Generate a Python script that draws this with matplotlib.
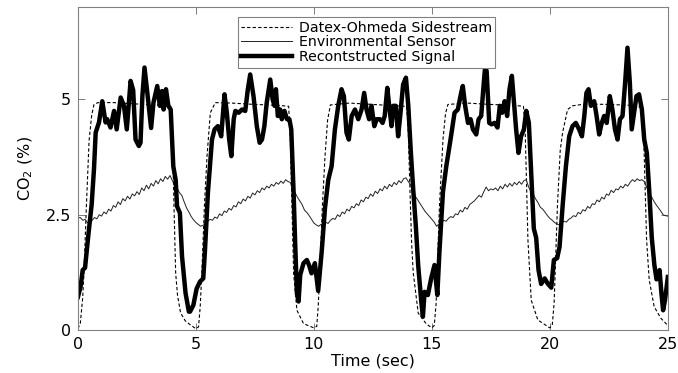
import numpy as np
import matplotlib
matplotlib.use("Agg")
import matplotlib.pyplot as plt

plt.rcParams["font.family"] = ["DejaVu Sans"]

# Datex-Ohmeda sidestream reference (time in s, CO2 in %)
ref_time = [0.00, 0.10, 0.20, 0.25, 0.35, 0.47, 0.58, 0.68, 0.85, 1.50, 2.50, 3.50,
            3.93, 4.00, 4.07, 4.14, 4.22, 4.35, 4.55, 4.77, 5.00, 5.11, 5.18, 5.25,
            5.36, 5.47, 5.61, 5.82, 6.50, 7.50, 8.50, 8.93, 9.00, 9.07, 9.14, 9.28,
            9.56, 9.99, 10.12, 10.18, 10.25, 10.36, 10.47, 10.58, 10.70, 11.50, 12.50,
            13.50, 13.93, 14.00, 14.07, 14.14, 14.21, 14.42, 14.77, 15.00, 15.10,
            15.18, 15.32, 15.47, 15.58, 15.68, 16.50, 17.50, 18.50, 18.88, 18.95,
            19.00, 19.07, 19.21, 19.49, 19.99, 20.10, 20.18, 20.32, 20.44, 20.54,
            20.75, 20.96, 21.50, 22.50, 23.50, 23.93, 24.00, 24.10, 24.21, 24.42,
            24.70, 25.00]
ref_co2 = [0.03, 0.15, 0.70, 1.20, 2.60, 4.10, 4.65, 4.89, 4.93, 4.93, 4.90, 4.87,
           4.85, 4.30, 2.68, 1.24, 0.75, 0.37, 0.20, 0.11, 0.03, 0.07, 0.50, 1.24,
           2.70, 3.77, 4.71, 4.93, 4.92, 4.89, 4.87, 4.85, 4.13, 2.68, 1.23, 0.43,
           0.14, 0.05, 0.08, 0.50, 1.24, 2.70, 3.77, 4.55, 4.88, 4.92, 4.89,
           4.86, 4.85, 4.30, 3.04, 1.90, 1.24, 0.37, 0.13, 0.05, 0.10,
           0.58, 2.68, 4.13, 4.70, 4.89, 4.92, 4.89, 4.87, 4.85, 4.40,
           3.41, 1.96, 0.65, 0.22, 0.05, 0.10, 0.58, 2.68, 3.90, 4.28,
           4.78, 4.86, 4.90, 4.89, 4.87, 4.82, 3.77, 1.96, 1.09, 0.51,
           0.26, 0.10]

# environmental sensor, sampled every 0.1 s from 0 to 25 s
env_co2 = [
    2.43, 2.44, 2.38, 2.40, 2.33, 2.30, 2.38, 2.44, 2.41, 2.50,
    2.47, 2.56, 2.52, 2.62, 2.58, 2.70, 2.66, 2.78, 2.72, 2.85,
    2.80, 2.90, 2.84, 2.95, 2.91, 3.00, 2.94, 3.08, 3.02, 3.14,
    3.06, 3.18, 3.12, 3.24, 3.17, 3.28, 3.22, 3.33, 3.27, 3.35,
    3.24, 3.14, 3.08, 2.98, 2.92, 2.78, 2.65, 2.56, 2.46, 2.39,
    2.33, 2.29, 2.25, 2.27, 2.31, 2.36, 2.40, 2.38, 2.45, 2.42,
    2.52, 2.48, 2.58, 2.55, 2.64, 2.60, 2.70, 2.67, 2.78, 2.74,
    2.84, 2.80, 2.90, 2.86, 2.97, 2.93, 3.02, 2.98, 3.08, 3.04,
    3.12, 3.08, 3.16, 3.12, 3.20, 3.16, 3.23, 3.18, 3.26, 3.22,
    3.20, 3.05, 2.98, 2.88, 2.80, 2.72, 2.60, 2.55, 2.48, 2.40,
    2.32, 2.28, 2.25, 2.29, 2.27, 2.34, 2.31, 2.38, 2.42, 2.40,
    2.50, 2.46, 2.56, 2.52, 2.62, 2.58, 2.68, 2.65, 2.74, 2.70,
    2.82, 2.78, 2.88, 2.85, 2.95, 2.90, 3.01, 2.96, 3.06, 3.02,
    3.12, 3.06, 3.16, 3.11, 3.20, 3.15, 3.24, 3.19, 3.28, 3.30,
    3.22, 3.14, 3.02, 2.90, 2.82, 2.74, 2.66, 2.58, 2.52, 2.46,
    2.40, 2.34, 2.25, 2.30, 2.33, 2.38, 2.36, 2.42, 2.46, 2.44,
    2.52, 2.50, 2.60, 2.56, 2.66, 2.62, 2.72, 2.76, 2.80, 2.86,
    2.92, 2.88, 3.00, 3.10, 3.02, 3.06, 3.04, 3.08, 3.02, 3.12,
    3.06, 3.16, 3.10, 3.18, 3.12, 3.20, 3.15, 3.22, 3.16, 3.24,
    3.26, 3.10, 3.00, 2.94, 2.84, 2.76, 2.66, 2.62, 2.55, 2.48,
    2.42, 2.38, 2.33, 2.30, 2.28, 2.32, 2.36, 2.34, 2.40, 2.43,
    2.48, 2.46, 2.55, 2.52, 2.61, 2.58, 2.68, 2.64, 2.74, 2.72,
    2.82, 2.78, 2.88, 2.84, 2.95, 2.92, 3.03, 2.98, 3.06, 3.04,
    3.12, 3.08, 3.16, 3.12, 3.20, 3.26, 3.22, 3.28, 3.24, 3.26,
    3.22, 3.10, 2.98, 2.90, 2.80, 2.72, 2.65, 2.58, 2.50, 2.48,
    2.47,
]
env_time = np.linspace(0, 25, len(env_co2))

# reconstructed signal
rec_time = [0.00, 0.11, 0.20, 0.30, 0.44, 0.58, 0.68, 0.75, 0.89, 1.03, 1.17, 1.24,
            1.38, 1.53, 1.64, 1.81, 1.95, 2.07, 2.23, 2.34, 2.44, 2.58, 2.65, 2.73,
            2.82, 2.94, 3.10, 3.20, 3.36, 3.47, 3.56, 3.63, 3.73, 3.83, 3.93, 4.04,
            4.14, 4.20, 4.32, 4.41, 4.56, 4.70, 4.75, 4.89, 5.03, 5.17, 5.31, 5.38,
            5.51, 5.68, 5.79, 5.93, 6.07, 6.21, 6.31, 6.41, 6.50, 6.60, 6.67, 6.81,
            6.95, 7.09, 7.20, 7.30, 7.44, 7.58, 7.70, 7.80, 7.90, 8.00, 8.15, 8.25,
            8.33, 8.39, 8.47, 8.57, 8.64, 8.75, 8.86, 8.96, 9.04, 9.14, 9.21, 9.28,
            9.35, 9.42, 9.56, 9.70, 9.80, 9.90, 10.04, 10.18, 10.33, 10.47, 10.61,
            10.75, 10.89, 11.03, 11.17, 11.27, 11.38, 11.48, 11.60, 11.74, 11.88,
            12.02, 12.13, 12.23, 12.34, 12.44, 12.56, 12.66, 12.80, 12.91, 13.00,
            13.11, 13.19, 13.29, 13.36, 13.47, 13.57, 13.67, 13.78, 13.90, 14.00,
            14.11, 14.21, 14.32, 14.42, 14.55, 14.62, 14.69, 14.83, 14.97, 15.11,
            15.23, 15.32, 15.47, 15.61, 15.79, 15.96, 16.10, 16.24, 16.31, 16.41,
            16.53, 16.64, 16.74, 16.88, 16.98, 17.09, 17.20, 17.26, 17.32, 17.43,
            17.53, 17.66, 17.78, 17.88, 17.98, 18.08, 18.19, 18.29, 18.39, 18.47,
            18.57, 18.67, 18.78, 18.90, 19.00, 19.11, 19.21, 19.32, 19.42, 19.52,
            19.63, 19.78, 19.92, 20.06, 20.17, 20.31, 20.41, 20.55, 20.68, 20.82,
            20.96, 21.10, 21.24, 21.36, 21.46, 21.55, 21.64, 21.74, 21.88, 21.98,
            22.09, 22.20, 22.30, 22.41, 22.54, 22.65, 22.76, 22.87, 22.97, 23.08,
            23.19, 23.29, 23.39, 23.47, 23.57, 23.67, 23.78, 23.90, 24.00, 24.11,
            24.21, 24.32, 24.43, 24.52, 24.65, 24.73, 24.80, 24.88, 25.00]
rec_co2 = [0.72, 0.94, 1.30, 1.35, 2.06, 2.72, 3.50, 4.28, 4.50, 4.96, 4.50, 4.57,
           4.39, 4.75, 4.35, 5.04, 4.86, 4.35, 5.40, 5.20, 4.13, 3.99, 4.06, 5.07,
           5.69, 5.14, 4.38, 4.93, 5.29, 4.86, 5.18, 4.78, 5.22, 4.86, 4.78, 3.55,
           3.26, 2.68, 2.54, 1.60, 0.80, 0.40, 0.40, 0.54, 0.90, 1.05, 1.12, 1.70,
           3.00, 4.13, 4.35, 4.42, 4.20, 5.11, 4.71, 4.13, 3.77, 4.57, 4.75, 4.71,
           4.78, 4.75, 5.22, 5.54, 5.07, 4.42, 4.06, 4.13, 4.42, 4.93, 5.43, 5.00,
           4.86, 5.22, 4.64, 4.78, 4.57, 4.75, 4.57, 4.57, 4.35, 2.97, 1.81, 0.79,
           0.62, 1.20, 1.45, 1.52, 1.40, 1.23, 1.45, 0.85, 1.70, 2.65, 3.26,
           3.55, 4.35, 4.86, 5.22, 5.07, 4.28, 4.13, 4.64, 4.78, 4.57,
           4.78, 5.14, 4.78, 4.57, 4.86, 4.42, 4.57, 4.57, 4.49, 4.64,
           5.25, 4.86, 4.42, 4.86, 4.86, 4.20, 4.71, 5.32, 5.47, 4.86,
           3.84, 3.04, 2.25, 1.40, 0.62, 0.29, 0.83, 0.76, 1.12, 1.41,
           0.76, 1.70, 3.00, 3.55, 4.13, 4.71, 4.78, 5.14, 5.29, 4.86,
           4.49, 4.57, 4.35, 4.24, 4.57, 4.64, 5.36, 5.72, 5.61, 4.49,
           4.46, 4.49, 4.39, 4.86, 4.71, 4.96, 4.64, 5.22, 5.51, 5.00,
           4.35, 3.84, 4.20, 4.35, 4.75, 4.49, 3.41, 2.20, 2.00, 1.30,
           1.00, 1.12, 1.00, 0.92, 1.52, 1.56, 1.80, 2.75, 3.55, 4.20,
           4.42, 4.49, 4.35, 4.20, 4.64, 5.14, 5.22, 4.86, 4.96, 4.64,
           4.24, 4.49, 4.64, 4.49, 5.07, 4.78, 4.35, 4.13, 4.57, 4.64,
           5.36, 6.12, 5.36, 4.35, 4.71, 5.07, 5.11, 4.78, 4.13, 3.84,
           3.04, 2.00, 1.41, 1.10, 1.30, 0.79, 0.43, 0.65, 1.15]

series_labels = ["Datex-Ohmeda Sidestream", "Environmental Sensor", "Recontstructed Signal"]
x_ticks = [0, 5, 10, 15, 20, 25]
y_ticks = [0, 2.5, 5]
y_tick_labels = ["0", "2.5", "5"]

fig = plt.figure(figsize=(6.78, 3.73), dpi=100)
ax = fig.add_axes([0.115, 0.115, 0.870, 0.866])

ax.plot(ref_time, ref_co2, color="black", lw=0.8, ls=(0, (3, 2)), label=series_labels[0])
ax.plot(env_time, env_co2, color="#222222", lw=0.7, label=series_labels[1])
ax.plot(rec_time, rec_co2, color="black", lw=3.2, solid_joinstyle="round", label=series_labels[2])

ax.set_xlim(0, 25)
ax.set_ylim(0, 7)
ax.set_xticks(x_ticks)
ax.set_yticks(y_ticks)
ax.set_yticklabels(y_tick_labels)
ax.tick_params(direction="in", top=True, right=True, length=5, width=0.6,
               color="#666666", labelsize=11.5, pad=5)
for sp in ax.spines.values():
    sp.set_color("#808080")
    sp.set_linewidth(0.8)

ax.set_xlabel("Time (sec)", fontsize=11.5, labelpad=1)
ax.set_ylabel("CO$_2$ (%)", fontsize=11.5, labelpad=8)

leg = ax.legend(loc="upper left", bbox_to_anchor=(0.271, 0.969), borderaxespad=0,
                fontsize=10.2, frameon=True, fancybox=False, framealpha=1,
                edgecolor="#808080", borderpad=0.25, labelspacing=0.05,
                handlelength=3.6, handletextpad=0.45)
leg.get_frame().set_linewidth(0.8)

fig.savefig("out.png", dpi=100)
